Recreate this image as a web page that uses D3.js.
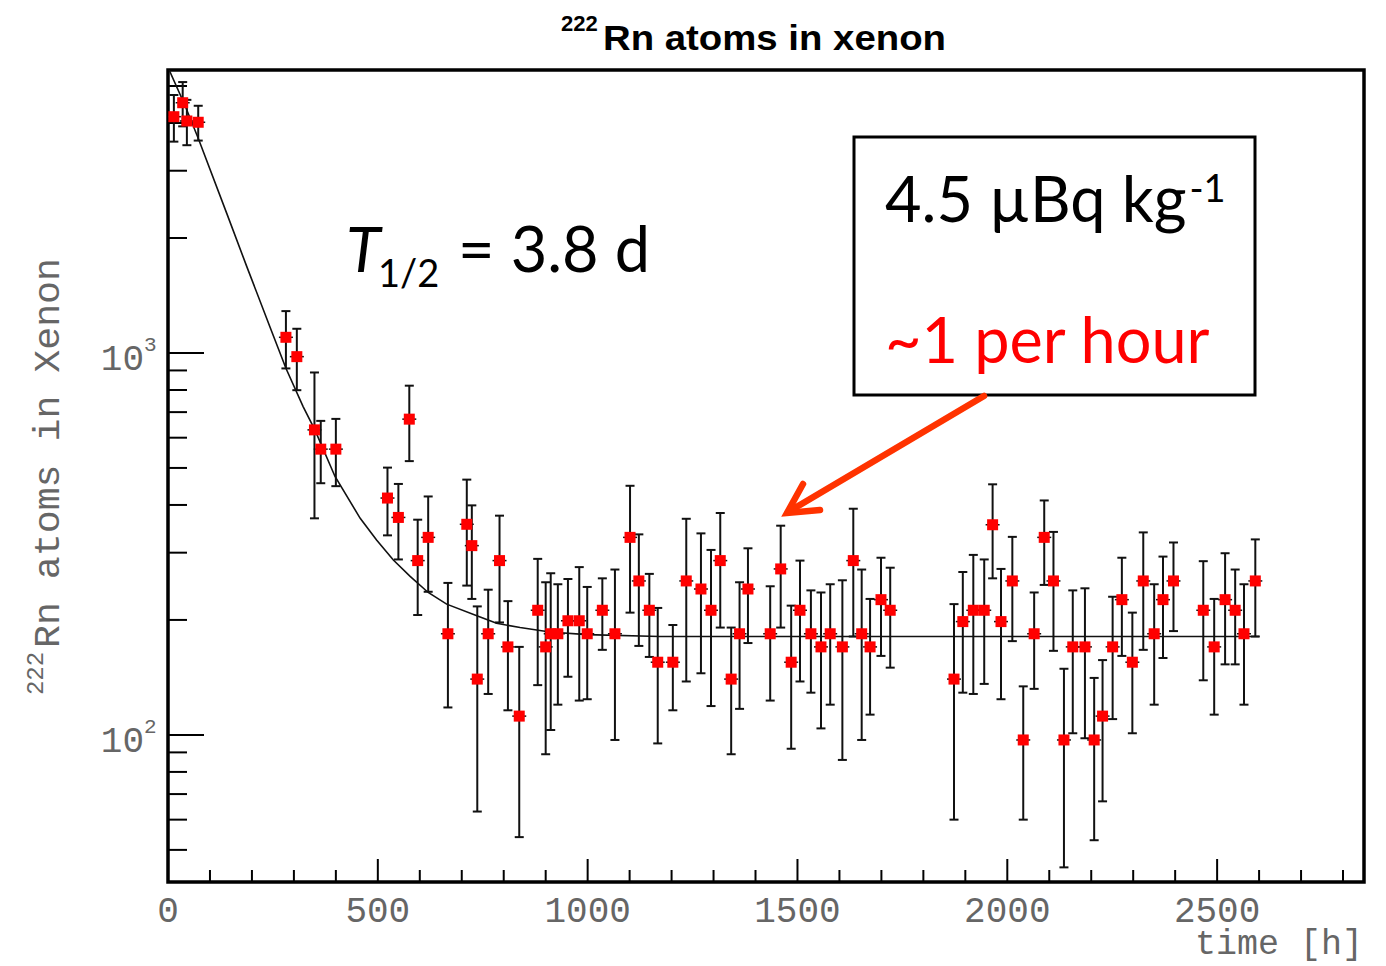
<!DOCTYPE html>
<html>
<head>
<meta charset="utf-8">
<script src="https://cdn.jsdelivr.net/npm/d3@7"></script>
<style>
  body { margin: 0; background: #fff; }
  svg { display: block; }
</style>
</head>
<body>
<svg width="1386" height="966"></svg>
<script>
// measured points: time [h], 222Rn atoms, symmetric error
const hours = [14, 35, 45, 72, 281, 307, 349, 364, 400, 523, 549, 575, 595, 620, 667, 712, 724, 737, 763, 790,
  810, 837, 881, 900, 912, 929, 953, 980, 999, 1035, 1065, 1101, 1122, 1147, 1167, 1203, 1235, 1270, 1294, 1316,
  1342, 1362, 1382, 1435, 1460, 1485, 1506, 1532, 1556, 1578, 1607, 1633, 1653, 1673, 1699, 1721, 1873, 1894, 1919, 1945,
  1965, 1985, 2012, 2038, 2064, 2088, 2110, 2135, 2156, 2185, 2207, 2227, 2251, 2273, 2298, 2324, 2350, 2371, 2396, 2467,
  2493, 2519, 2543, 2564, 2591];
const atoms = [4155, 4520, 4049, 4018, 1099, 978, 629, 560, 560, 417, 371, 671, 286, 329, 184, 356, 313, 140, 184, 286,
  170, 112, 212, 170, 184, 184, 199, 199, 184, 212, 184, 329, 253, 212, 155, 155, 253, 241, 212, 286,
  140, 184, 241, 184, 272, 155, 212, 184, 170, 184, 170, 286, 184, 170, 226, 212, 140, 198, 212, 212,
  355, 198, 253, 97, 184, 329, 253, 97, 170, 170, 97, 112, 170, 226, 155, 253, 184, 226, 253, 212,
  170, 226, 212, 184, 253];
const errors = [580, 600, 550, 420, 188, 179, 260, 104, 112, 84, 83, 150, 80, 92, 66, 110, 86, 77, 56, 89,
  54, 58, 77, 81, 81, 64, 57, 76, 60, 45, 87, 120, 82, 52, 60, 39, 115, 96, 93, 95,
  51, 67, 67, 61, 81, 63, 74, 55, 66, 64, 84, 105, 87, 57, 65, 62, 80, 69, 84, 76,
  98, 74, 77, 37, 52, 82, 87, 52, 69, 72, 44, 45, 60, 65, 54, 86, 64, 67, 66, 73,
  57, 73, 59, 64, 72];

// fit curve
const fitHours = [3, 40, 72, 140, 188, 243, 281, 322, 350, 398, 458, 497, 537, 577, 620, 664, 736, 783, 839, 910, 998, 1172, 2600];
const fitAtoms = [5500, 4460, 3650, 2320, 1680, 1170, 912, 724, 629, 475, 369, 324, 287, 260, 236, 220, 205, 196, 191, 186, 183, 181, 181];

const xMajor = [0, 500, 1000, 1500, 2000, 2500];
const xMinor = d3.range(0, 2900, 100);
const yMajor = [100, 1000];
const yMinor = [50, 60, 70, 80, 90, 200, 300, 400, 500, 600, 700, 800, 900, 2000, 3000, 4000, 5000];

const pLeft = 168, pRight = 1364, pTop = 70, pBottom = 882;
const svg = d3.select("svg");
const grey = "#666";
const mono = "'Liberation Mono', monospace";

const x = d3.scaleLinear().domain([0, 2850]).range([pLeft, pRight]);
const y = d3.scaleLog().domain([41.2, 5506]).range([pBottom, pTop]);

svg.append("defs").append("clipPath").attr("id", "plot")
  .append("rect").attr("x", pLeft).attr("y", pTop).attr("width", pRight - pLeft).attr("height", pBottom - pTop);

// title
svg.append("text").attr("x", 561).attr("y", 31)
  .attr("font-family", "'Liberation Sans', Arial, sans-serif").attr("font-weight", "bold")
  .attr("font-size", 22).text("222");
svg.append("text").attr("x", 603).attr("y", 50)
  .attr("font-family", "'Liberation Sans', Arial, sans-serif").attr("font-weight", "bold")
  .attr("font-size", 35).attr("textLength", 343).attr("lengthAdjust", "spacingAndGlyphs")
  .text("Rn atoms in xenon");

// ticks
const ticks = svg.append("g").attr("stroke", "#000").attr("stroke-width", 2);
ticks.selectAll(".xmin").data(xMinor).join("line")
  .attr("x1", d => x(d)).attr("x2", d => x(d))
  .attr("y1", pBottom).attr("y2", d => xMajor.includes(d) ? pBottom - 23 : pBottom - 12);
ticks.selectAll(".ymin").data(yMajor.concat(yMinor)).join("line")
  .attr("y1", d => y(d)).attr("y2", d => y(d))
  .attr("x1", pLeft).attr("x2", d => yMajor.includes(d) ? pLeft + 36 : pLeft + 19);

// frame
svg.append("rect").attr("x", pLeft).attr("y", pTop).attr("width", pRight - pLeft).attr("height", pBottom - pTop)
  .attr("fill", "none").attr("stroke", "#000").attr("stroke-width", 3.5);

// tick labels
svg.selectAll(".xl").data(xMajor).join("text")
  .attr("x", d => x(d)).attr("y", 922).attr("text-anchor", "middle")
  .attr("font-family", mono).attr("font-size", 36).attr("fill", grey)
  .text(d => d);
yMajor.forEach((d, i) => {
  svg.append("text").attr("x", 144).attr("y", y(d) + 17).attr("text-anchor", "end")
    .attr("font-family", mono).attr("font-size", 36).attr("fill", grey).text("10");
  svg.append("text").attr("x", 144).attr("y", y(d) - 2)
    .attr("font-family", mono).attr("font-size", 21).attr("fill", grey).text(i === 0 ? "2" : "3");
});
svg.append("text").attr("x", 1363).attr("y", 954).attr("text-anchor", "end")
  .attr("font-family", mono).attr("font-size", 35).attr("fill", grey).text("time [h]");

const ylab = svg.append("g").attr("transform", "translate(59,0) rotate(-90)")
  .attr("font-family", mono).attr("fill", grey);
ylab.append("text").attr("x", -648).attr("y", 0).attr("font-size", 37.5)
  .attr("textLength", 390).attr("lengthAdjust", "spacingAndGlyphs").text("Rn atoms in Xenon");
ylab.append("text").attr("x", -695).attr("y", -16).attr("font-size", 24)
  .attr("textLength", 43).attr("lengthAdjust", "spacingAndGlyphs").text("222");

// fit curve
svg.append("path").datum(d3.zip(fitHours, fitAtoms))
  .attr("clip-path", "url(#plot)")
  .attr("fill", "none").attr("stroke", "#111").attr("stroke-width", 1.6)
  .attr("d", d3.line().x(d => x(d[0])).y(d => y(d[1])));

// error bars and markers
const pts = hours.map((h, i) => ({ h, v: atoms[i], e: errors[i] }));
const eb = svg.append("g").attr("stroke", "#111").attr("stroke-width", 2).attr("clip-path", "url(#plot)");
eb.selectAll(".bar").data(pts).join("line")
  .attr("x1", d => x(d.h)).attr("x2", d => x(d.h))
  .attr("y1", d => y(d.v + d.e)).attr("y2", d => y(Math.max(d.v - d.e, 1)));
eb.selectAll(".capt").data(pts).join("line")
  .attr("x1", d => x(d.h) - 4.5).attr("x2", d => x(d.h) + 4.5)
  .attr("y1", d => y(d.v + d.e)).attr("y2", d => y(d.v + d.e));
eb.selectAll(".capb").data(pts).join("line")
  .attr("x1", d => x(d.h) - 4.5).attr("x2", d => x(d.h) + 4.5)
  .attr("y1", d => y(d.v - d.e)).attr("y2", d => y(d.v - d.e));
eb.selectAll(".stub").data(pts).join("line")
  .attr("stroke-width", 1.5)
  .attr("x1", d => x(d.h) - 7).attr("x2", d => x(d.h) + 7)
  .attr("y1", d => y(d.v)).attr("y2", d => y(d.v));
svg.append("g").selectAll("rect").data(pts).join("rect")
  .attr("x", d => x(d.h) - 5.5).attr("y", d => y(d.v) - 5.5)
  .attr("width", 11).attr("height", 11).attr("fill", "#ff0000");

// half-life annotation
const cal = "Lato, 'Open Sans', sans-serif";
svg.append("text").attr("x", 346).attr("y", 272).attr("font-family", cal)
  .attr("font-style", "italic").attr("font-size", 63).text("T");
svg.append("text").attr("x", 378).attr("y", 287).attr("font-family", cal)
  .attr("font-size", 38).text("1/2");
svg.append("text").attr("x", 458).attr("y", 272).attr("font-family", cal)
  .attr("font-size", 63).text("= 3.8 d");

// box
svg.append("rect").attr("x", 854).attr("y", 137).attr("width", 401).attr("height", 258)
  .attr("fill", "#fff").attr("stroke", "#000").attr("stroke-width", 3);
const rate = svg.append("text").attr("x", 885).attr("y", 222).attr("font-family", cal)
  .attr("font-size", 63).text("4.5 µBq kg");
const rateEnd = 885 + rate.node().getComputedTextLength();
svg.append("text").attr("x", rateEnd + 3).attr("y", 202).attr("font-family", cal)
  .attr("font-size", 38).text("-1");
svg.append("text").attr("x", 885).attr("y", 363).attr("font-family", cal)
  .attr("font-size", 63).attr("fill", "#ff0000").text("~1 per hour");

// arrow
const arrow = svg.append("g").attr("stroke", "#ff3300").attr("stroke-width", 6.5)
  .attr("stroke-linecap", "round").attr("fill", "none");
arrow.append("line").attr("x1", 984).attr("y1", 396).attr("x2", 788).attr("y2", 512);
arrow.append("polyline").attr("points", "803,484 787,513 820,510");
</script>
</body>
</html>
